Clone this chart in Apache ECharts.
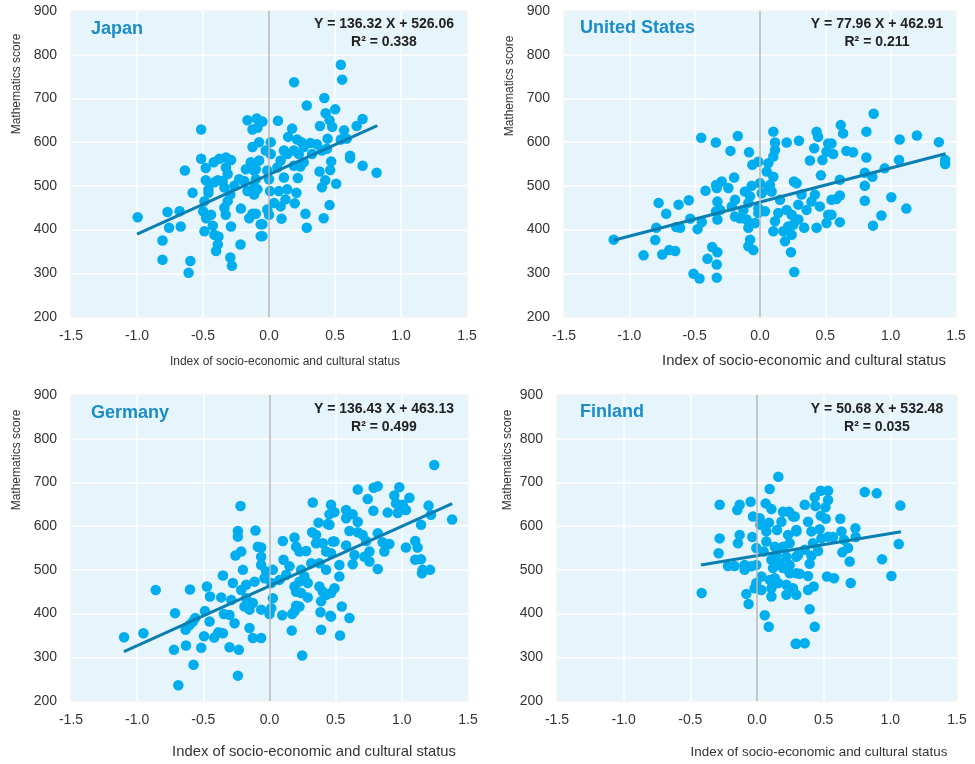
<!DOCTYPE html>
<html><head><meta charset="utf-8">
<script src="https://cdn.jsdelivr.net/npm/echarts@6/dist/echarts.min.js"></script>
<style>html,body{margin:0;padding:0;background:#fff}#c{width:975px;height:764px}</style>
</head><body><div id="c"></div>
<script>
const countries = ['Japan', 'United States', 'Germany', 'Finland'];
const slopes = [136.32, 77.96, 136.43, 50.68];
const intercepts = [526.06, 462.91, 463.13, 532.48];
const rSquared = ['0.338', '0.211', '0.499', '0.035'];
const lineStart = [-1.0, -1.12, -1.1, -0.42];
const lineEnd = [0.82, 1.42, 1.38, 1.08];
const yAxisTitle = 'Mathematics score';
const xAxisTitle = 'Index of socio-economic and cultural status';

const japanPoints = [
[-0.995,428],[-0.807,375],[-0.807,331],[-0.596,328],[-0.609,301],[-0.769,440],[-0.677,442],[-0.757,404],[-0.669,407],[-0.637,535],[-0.579,484],[-0.514,629],[-0.514,562],[-0.479,541],[-0.479,513],[-0.459,492],[-0.459,484],[-0.489,465],[-0.499,442],[-0.476,426],[-0.439,434],[-0.489,396],[-0.426,409],[-0.414,388],[-0.383,384],[-0.388,366],[-0.401,351],[-0.293,336],[-0.281,317],[-0.216,366],[-0.288,407],[-0.213,448],[-0.328,434],[-0.338,450],[-0.313,465],[-0.293,480],[-0.338,496],[-0.351,511],[-0.388,513],[-0.414,508],[-0.419,554],[-0.376,562],[-0.326,565],[-0.288,559],[-0.326,542],[-0.313,527],[-0.263,500],[-0.226,515],[-0.188,511],[-0.175,538],[-0.138,554],[-0.113,535],[-0.100,515],[-0.163,488],[-0.088,492],[-0.113,480],[-0.150,426],[-0.125,436],[-0.063,412],[-0.063,385],[-0.163,650],[-0.093,654],[-0.125,629],[-0.088,633],[-0.125,589],[-0.075,600],[-0.075,558],[-0.100,538],
[0.544,777],[0.554,743],[0.190,737],[0.419,701],[0.286,684],[0.501,675],[0.429,666],[0.459,650],[0.479,635],[0.386,637],[0.709,653],[0.664,637],[0.569,627],[0.589,608],[0.544,606],[0.444,608],[0.363,595],[0.313,598],[0.246,600],[0.213,606],[0.145,612],[0.175,631],[0.068,649],[-0.050,647],[0.013,600],[-0.025,581],[0.013,573],[0.113,581],[0.138,573],[0.188,581],[0.226,573],[0.263,589],[0.326,573],[0.401,581],[0.439,585],[0.614,569],[0.614,563],[0.471,556],[0.464,536],[0.383,533],[0.263,554],[0.238,544],[0.188,546],[0.088,558],[0.063,542],[-0.013,535],[0.000,515],[0.113,519],[0.218,518],[0.709,546],[0.815,530],[0.426,513],[0.401,497],[0.509,505],[0.008,488],[0.075,488],[0.138,492],[0.208,484],[0.125,469],[0.038,461],[-0.013,446],[0.000,434],[0.088,453],[0.195,460],[0.459,456],[0.276,436],[0.414,426],[0.095,425],[-0.100,436],[-0.050,412],[-0.050,385],[0.286,404],[-0.113,496]
];

const usPoints = [
[-1.120,377],[-0.891,341],[-0.794,404],[-0.802,376],[-0.776,461],[-0.718,436],[-0.748,343],[-0.695,353],[-0.649,351],[-0.623,457],[-0.641,406],[-0.611,404],[-0.545,467],[-0.534,425],[-0.478,401],[-0.445,417],[-0.450,610],[-0.338,599],[-0.417,489],[-0.509,299],[-0.463,288],[-0.366,360],[-0.402,333],[-0.331,320],[-0.326,348],[-0.336,502],[-0.326,464],[-0.336,442],[-0.326,423],[-0.331,290],
[-0.170,614],[-0.226,580],[-0.084,577],[0.102,624],[0.115,599],[0.115,582],[0.102,567],[0.204,599],[0.298,603],[0.433,624],[0.445,612],[0.415,586],[0.522,597],[0.509,578],[0.382,558],[0.478,559],[0.466,524],[-0.013,555],[-0.059,548],[0.064,552],[0.051,533],[0.102,521],[0.076,502],[-0.198,519],[-0.293,510],[-0.331,495],[-0.242,495],[-0.115,487],[-0.064,500],[0.000,506],[0.013,483],[-0.076,476],[0.064,495],[0.089,487],[0.260,510],[0.280,506],[0.318,480],[0.420,480],[0.394,464],[0.547,468],[0.356,445],[0.293,457],[0.458,453],[0.522,434],[0.509,415],[0.433,404],[0.338,404],[0.293,423],[0.242,434],[0.204,445],[0.153,468],[0.140,438],[0.115,419],[0.102,396],[0.178,396],[0.216,407],[0.255,411],[0.242,388],[0.191,373],[0.237,348],[0.262,303],[0.038,442],[-0.013,449],[-0.089,461],[-0.127,445],[-0.191,430],[-0.216,453],[-0.305,445],[-0.102,423],[-0.038,415],[-0.013,438],[-0.089,404],[-0.076,377],[-0.051,353],[-0.089,362],[-0.153,426],[-0.191,468],
[0.870,665],[0.618,639],[0.636,620],[0.814,624],[0.547,597],[0.560,573],[0.661,580],[0.712,577],[0.814,565],[1.069,606],[1.201,615],[1.369,600],[1.064,559],[0.954,540],[1.417,559],[1.417,550],[0.802,530],[0.860,521],[0.611,514],[0.802,500],[1.005,474],[1.120,448],[0.802,466],[0.611,478],[0.585,470],[0.929,432],[0.865,409],[0.611,417],[0.547,434]
];

const germanyPoints = [
[-1.099,346],[-0.953,355],[-0.860,454],[-0.601,455],[-0.473,462],[-0.450,439],[-0.365,437],[-0.352,487],[-0.714,401],[-0.634,363],[-0.579,382],[-0.561,390],[-0.604,374],[-0.488,406],[-0.453,382],[-0.495,348],[-0.418,345],[-0.387,357],[-0.352,355],[-0.722,317],[-0.631,327],[-0.516,322],[-0.574,283],[-0.689,236],[-0.345,399],
[-0.219,646],[-0.239,589],[-0.239,576],[-0.106,590],[-0.257,533],[-0.214,542],[-0.088,553],[-0.063,551],[-0.063,530],[-0.201,500],[-0.277,470],[-0.289,431],[-0.214,454],[-0.176,466],[-0.113,473],[-0.176,435],[-0.126,424],[-0.189,416],[-0.063,409],[-0.151,409],[-0.302,397],[-0.264,378],[-0.151,367],[-0.126,344],[-0.063,344],[-0.302,323],[-0.232,317],[-0.239,258],[-0.063,511],[-0.025,496],[0.025,500],[-0.038,481],[0.013,470],[0.025,435],[0.013,412],[0.000,399],[0.096,396],[0.171,399],[0.168,361],[0.247,304],[0.101,566],[0.106,523],[0.151,508],[0.189,574],[0.201,553],[0.226,542],[0.277,543],[0.322,586],[0.352,580],[0.327,654],[0.370,608],[0.440,605],[0.465,649],[0.453,627],[0.352,561],[0.403,561],[0.428,542],[0.377,515],[0.428,500],[0.478,565],[0.315,515],[0.239,500],[0.226,473],[0.189,462],[0.201,450],[0.239,447],[0.289,437],[0.226,416],[0.201,418],[0.189,405],[0.377,462],[0.403,450],[0.428,443],[0.390,428],[0.385,403],[0.460,395],[0.390,363],[0.126,489],[0.075,477],[0.264,485],[0.289,470],
[1.245,740],[0.667,684],[0.787,688],[0.818,691],[0.742,662],[0.981,689],[0.943,670],[1.057,665],[0.956,652],[1.006,649],[0.969,630],[1.031,637],[0.893,631],[0.785,635],[1.202,647],[1.220,626],[1.145,603],[0.491,632],[0.579,637],[0.579,618],[0.629,627],[0.667,610],[0.604,589],[0.667,586],[0.704,580],[0.730,566],[0.818,584],[0.855,563],[0.906,559],[0.868,542],[1.031,551],[1.101,566],[1.119,551],[1.101,523],[1.145,524],[1.157,500],[1.213,500],[1.152,492],[0.491,565],[0.579,556],[0.465,538],[0.642,534],[0.717,530],[0.755,542],[0.755,519],[0.629,513],[0.528,511],[0.818,502],[0.528,485],[0.491,458],[0.465,447],[0.546,416],[0.465,393],[0.604,390],[0.533,350],[0.453,603],[1.38,615]
];

const finlandPoints = [
[-0.415,447],[-0.280,649],[-0.130,649],[-0.148,637],[-0.048,656],[0.160,713],[0.095,685],[0.065,652],[0.108,639],[-0.030,622],[0.020,618],[0.090,608],[0.025,603],[0.195,633],[0.240,633],[0.270,622],[0.183,610],[-0.280,572],[-0.130,580],[-0.143,561],[-0.035,575],[0.070,588],[0.150,591],[0.233,580],[0.295,588],[0.070,565],[0.133,553],[0.195,553],[0.245,561],[-0.005,550],[0.050,542],[-0.288,538],[-0.218,509],[-0.168,509],[-0.093,511],[-0.093,500],[-0.043,508],[-0.005,511],[0.108,523],[0.145,534],[0.170,515],[0.220,530],[0.245,511],[0.295,530],[0.120,504],[0.195,504],[0.245,492],[0.295,492],[0.033,485],[0.095,477],[-0.005,470],[-0.018,458],[0.033,454],[0.108,458],[0.158,470],[0.220,466],[0.270,458],[0.220,443],[0.108,439],[-0.080,445],[-0.063,422],[0.058,396],[0.088,370],[0.290,331],[0.133,481],
[0.478,681],[0.533,681],[0.433,666],[0.533,660],[0.358,649],[0.438,646],[0.513,643],[0.808,678],[0.898,675],[1.075,647],[0.283,622],[0.478,624],[0.515,617],[0.625,617],[0.383,610],[0.295,591],[0.408,588],[0.470,593],[0.738,595],[0.633,588],[0.533,576],[0.483,572],[0.570,575],[0.740,575],[0.653,569],[0.683,550],[0.640,540],[1.063,559],[0.420,561],[0.358,546],[0.458,543],[0.308,534],[0.408,532],[0.695,519],[0.938,524],[0.395,514],[1.008,486],[0.525,485],[0.578,481],[0.703,470],[0.320,491],[0.383,486],[0.383,454],[0.425,462],[0.295,443],[0.395,410],[0.433,370],[0.358,332],[0.295,331]
];

const pointSets = [japanPoints, usPoints, germanyPoints, finlandPoints];
const xTickMin = -1.5, xTickMax = 1.5, xTickStep = 0.5;
const yTickMin = 200, yTickMax = 900, yTickStep = 100;

// layout (pixels)
const grids = [
  {left: 71, top: 11, width: 396, height: 306},
  {left: 564, top: 11, width: 392, height: 306},
  {left: 71, top: 395, width: 397, height: 306},
  {left: 557, top: 395, width: 400, height: 306}
];
const titlePos = [[91, 29], [580, 28], [91, 413], [580, 412]];
const eqPos = [[384, 24], [877, 24], [384, 409], [877, 409]];
const xTitlePos = [[285, 362, 12], [804, 361, 14.8], [314, 752, 14.8], [819, 752, 13.4]];
const yTitlePos = [[17, 84], [510, 86], [17, 460], [508, 460]];

const FONT = '"Liberation Sans", Arial, Helvetica, sans-serif';
const chart = echarts.init(document.getElementById('c'), null, {renderer: 'canvas'});

const option = {
  animation: false,
  backgroundColor: '#ffffff',
  grid: grids.map(g => Object.assign({show: true, backgroundColor: '#e6f4fb', borderColor: '#a8a8a8', borderWidth: 1, containLabel: false}, g)),
  xAxis: grids.map((g, i) => ({
    gridIndex: i, type: 'value', min: xTickMin, max: xTickMax, interval: xTickStep,
    axisLine: {show: false}, axisTick: {show: false},
    axisLabel: {fontFamily: FONT, fontSize: 14, color: '#333', margin: 12, formatter: v => v.toFixed(1)},
    splitLine: {show: true, lineStyle: {color: '#ffffff', width: 1.5}}
  })),
  yAxis: grids.map((g, i) => ({
    gridIndex: i, type: 'value', min: yTickMin, max: yTickMax, interval: yTickStep,
    axisLine: {show: false}, axisTick: {show: false},
    axisLabel: {fontFamily: FONT, fontSize: 14, color: '#333', margin: 14},
    splitLine: {show: true, lineStyle: {color: '#ffffff', width: 1.5}}
  })),
  series: [],
  graphic: []
};

pointSets.forEach((pts, i) => {
  option.series.push({
    type: 'scatter', xAxisIndex: i, yAxisIndex: i, data: [], z: 1, silent: true,
    markLine: {silent: true, symbol: 'none', label: {show: false},
      lineStyle: {color: '#b4b4b4', width: 1.5, type: 'solid'}, data: [{xAxis: 0}]}
  });
  option.series.push({
    type: 'scatter', xAxisIndex: i, yAxisIndex: i, data: pts, z: 2,
    symbol: 'circle', symbolSize: 10.5,
    itemStyle: {color: '#00aeef', opacity: 1}
  });
  option.series.push({
    type: 'line', xAxisIndex: i, yAxisIndex: i, z: 3, symbol: 'none',
    data: [[lineStart[i], slopes[i] * lineStart[i] + intercepts[i]], [lineEnd[i], slopes[i] * lineEnd[i] + intercepts[i]]],
    lineStyle: {color: '#0a7fb1', width: 3}
  });
  const t = titlePos[i];
  option.graphic.push({type: 'text', x: t[0], y: t[1], z: 10,
    style: {text: countries[i], font: 'bold 18px ' + FONT, fill: '#1a8dc8', align: 'left', verticalAlign: 'middle', textAlign: 'left', textVerticalAlign: 'middle'}});
  const e = eqPos[i];
  const sign = intercepts[i] >= 0 ? ' + ' : ' - ';
  option.graphic.push({type: 'text', x: e[0], y: e[1], z: 10,
    style: {text: 'Y = ' + slopes[i].toFixed(2) + ' X' + sign + Math.abs(intercepts[i]).toFixed(2), font: 'bold 14px ' + FONT, fill: '#222', align: 'center', verticalAlign: 'middle', textAlign: 'center', textVerticalAlign: 'middle'}});
  option.graphic.push({type: 'text', x: e[0], y: e[1] + 18.5, z: 10,
    style: {text: 'R\u00b2 = ' + rSquared[i], font: 'bold 14px ' + FONT, fill: '#222', align: 'center', verticalAlign: 'middle', textAlign: 'center', textVerticalAlign: 'middle'}});
  const xt = xTitlePos[i];
  option.graphic.push({type: 'text', x: xt[0], y: xt[1], z: 10,
    style: {text: xAxisTitle, font: xt[2] + 'px ' + FONT, fill: '#333', align: 'center', verticalAlign: 'middle', textAlign: 'center', textVerticalAlign: 'middle'}});
  const yt = yTitlePos[i];
  option.graphic.push({type: 'text', x: yt[0], y: yt[1], rotation: Math.PI / 2, z: 10,
    style: {text: yAxisTitle, font: '12px ' + FONT, fill: '#333', align: 'center', verticalAlign: 'middle', textAlign: 'center', textVerticalAlign: 'middle'}});
});

chart.setOption(option);
</script>
</body></html>
